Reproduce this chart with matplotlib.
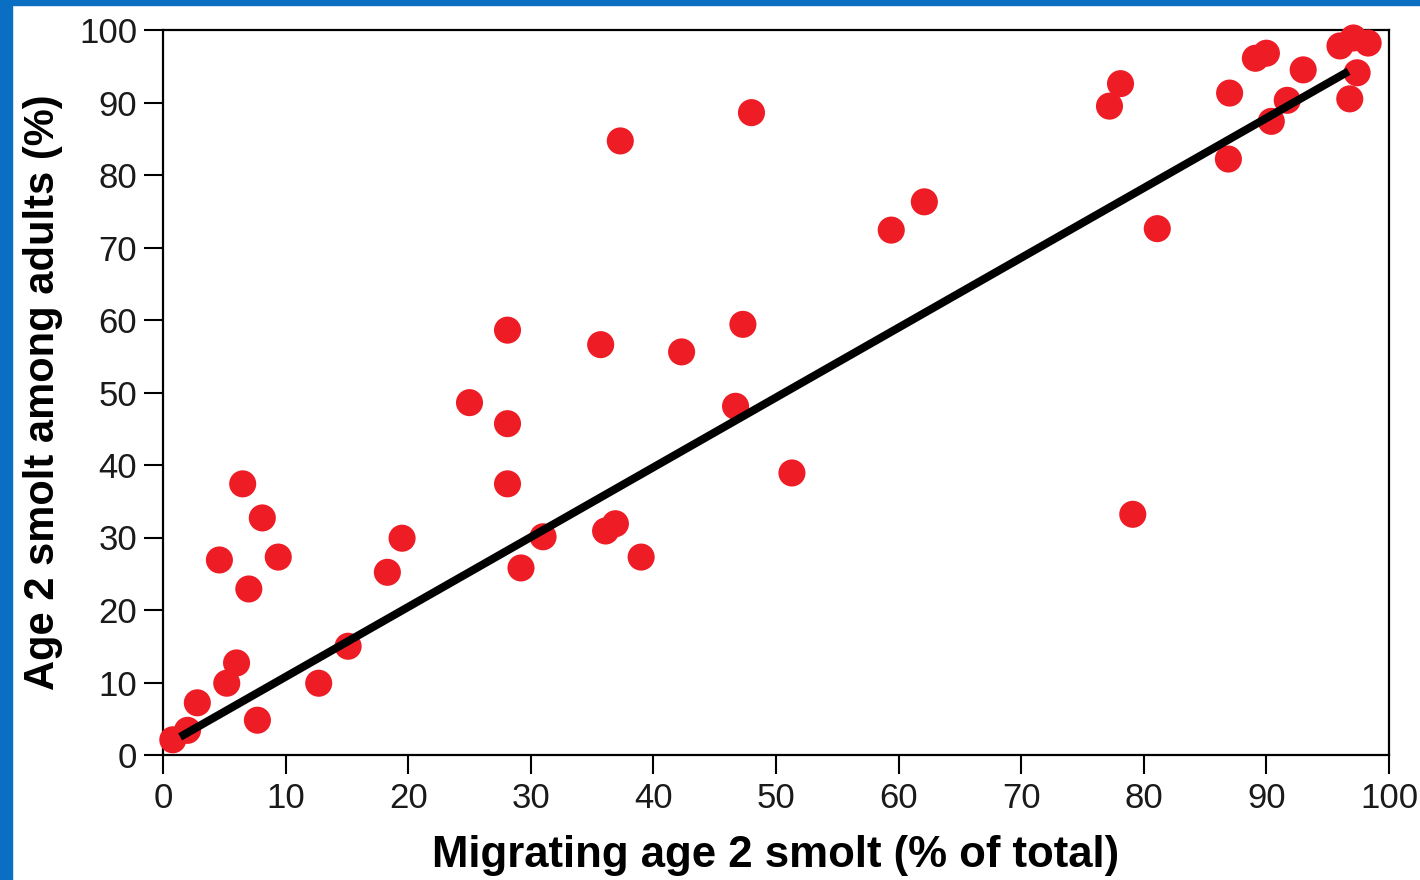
import matplotlib.pyplot as plt
from matplotlib.patches import Rectangle

# migrating age 2 smolt (% of total) vs age 2 smolt among adults (%)
smolt_pct = [0.8, 2.0, 2.8, 5.2, 6.0, 7.7, 12.7, 15.1, 4.6, 6.5, 8.1, 9.4, 7.0,
             18.3, 19.5, 25.0, 28.1, 28.1, 28.1, 29.2, 31.0, 35.7, 36.1, 36.9,
             37.3, 39.0, 42.3, 46.7, 47.3, 48.0, 51.3, 59.4, 62.1, 77.2, 78.1,
             79.1, 81.1, 87.0, 86.9, 89.1, 90.0, 93.0, 91.7, 90.4, 96.0, 97.1,
             98.3, 97.4, 96.8]
adult_pct = [2.1, 3.4, 7.2, 9.9, 12.7, 4.8, 9.9, 15.0, 26.9, 37.4, 32.7, 27.3, 22.9,
             25.2, 29.9, 48.6, 58.6, 45.7, 37.4, 25.8, 30.1, 56.6, 30.9, 31.9,
             84.7, 27.3, 55.6, 48.1, 59.4, 88.6, 38.9, 72.4, 76.3, 89.5, 92.6,
             33.2, 72.6, 91.3, 82.2, 96.1, 96.8, 94.5, 90.3, 87.4, 97.8, 98.9,
             98.2, 94.1, 90.5]

# regression line end points
fit_x = [1.4, 96.7]
fit_y = [2.5, 94.3]

plt.rcParams['font.family'] = ['Liberation Sans', 'DejaVu Sans']

fig = plt.figure(figsize=(14.2, 8.8), dpi=100)
fig.patches.append(Rectangle((0, 0), 12 / 1420, 1, transform=fig.transFigure,
                             color='#0a6fc2', zorder=0))
fig.patches.append(Rectangle((0, 1 - 5 / 880), 1, 5 / 880, transform=fig.transFigure,
                             color='#0a6fc2', zorder=0))

ax = fig.add_axes([163 / 1420, 1 - 755 / 880, (1389 - 163) / 1420, (755 - 30) / 880])
ax.scatter(smolt_pct, adult_pct, s=380, color='#ee1c25', edgecolors='none',
           zorder=3, clip_on=False)
ax.plot(fit_x, fit_y, color='black', lw=5.8, solid_capstyle='butt', zorder=4)

ax.set_xlim(0, 100)
ax.set_ylim(0, 100)
ax.set_xticks(range(0, 101, 10))
ax.set_yticks(range(0, 101, 10))
ax.tick_params(direction='out', length=13.5, width=1.5, labelsize=25,
               color='black', labelcolor='#1a1a1a')
ax.tick_params(axis='x', pad=6)
ax.tick_params(axis='y', pad=5)
for sp in ax.spines.values():
    sp.set_linewidth(1.6)

ax.set_xlabel('Migrating age 2 smolt (% of total)', fontsize=31.5, fontweight='bold',
              labelpad=14)
ax.set_ylabel('Age 2 smolt among adults (%)', fontsize=30, fontweight='bold',
              labelpad=12)

fig.savefig('out.png', dpi=100)
